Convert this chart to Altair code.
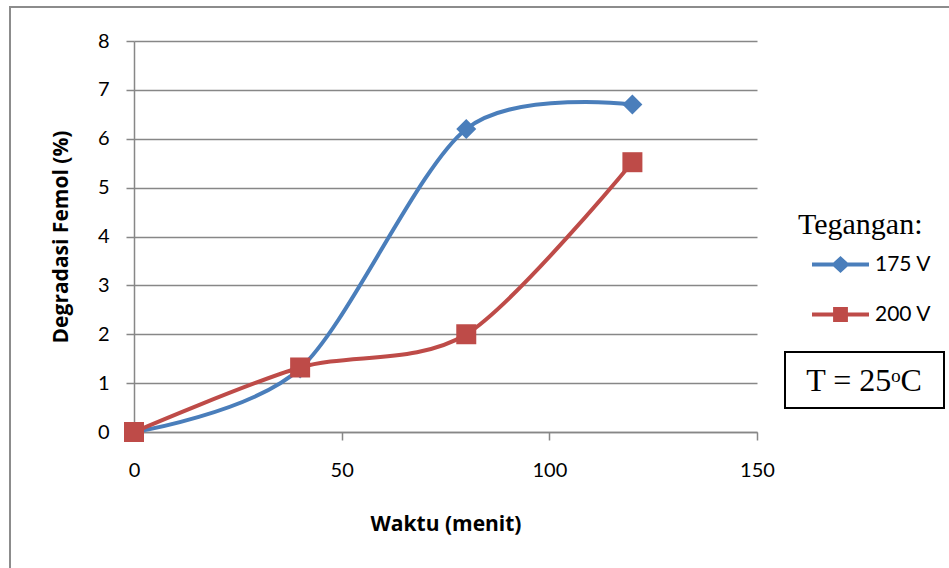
import altair as alt
import pandas as pd

# ---- data ----
times = [0, 40, 80, 120]
v175 = [0.0, 1.3, 6.2, 6.7]
v200 = [0.0, 1.32, 2.0, 5.52]
series = ["175 V", "200 V"]
x_ticks = [0, 50, 100, 150]
y_ticks = [0, 1, 2, 3, 4, 5, 6, 7, 8]
note_text = ["T = 25ᵒC"]

colors = ["#4A7EBB", "#BE4B48"]
LBL = "Lato"
TTL = "Open Sans"
SERIF = "Liberation Serif"
GRID = "#878787"

df = pd.DataFrame({
    "Waktu": times + times,
    "Degradasi": v175 + v200,
    "Tegangan": [series[0]] * len(times) + [series[1]] * len(times),
})

x = alt.X("Waktu:Q",
          scale=alt.Scale(domain=[0, 150], nice=False),
          axis=alt.Axis(values=x_ticks, title="Waktu (menit)", grid=False, labelFlush=False,
                        labelPadding=20, titlePadding=33))
y = alt.Y("Degradasi:Q",
          scale=alt.Scale(domain=[0, 8], nice=False),
          axis=alt.Axis(values=y_ticks, title="Degradasi Femol (%)", grid=True, labelFlush=False,
                        labelPadding=17, titlePadding=26))
color_nolegend = alt.Color("Tegangan:N", scale=alt.Scale(domain=series, range=colors), legend=None)

path_diamond = "M-1,0L1,0M0,-0.2L0.22,0L0,0.2L-0.22,0Z"
path_square = "M-1,0L1,0M-0.19,-0.19L0.19,-0.19L0.19,0.19L-0.19,0.19Z"

common_leg = dict(
    orient="none", legendX=664,
    labelFont=LBL, labelFontSize=21, labelColor="black",
    labelOffset=4, symbolSize=3249, symbolStrokeWidth=4, symbolOpacity=1,
    symbolOffset=12, clipHeight=45,
)
leg1 = alt.Legend(
    title="Tegangan:", legendY=169,
    titleFont=SERIF, titleFontSize=30, titleFontWeight="normal", titleColor="black",
    titlePadding=2, symbolType=path_diamond, symbolStrokeColor=colors[0],
    **common_leg,
)
leg2 = alt.Legend(
    title=None, legendY=251, symbolType=path_square, symbolFillColor=colors[1],
    **common_leg,
)

base = alt.Chart(df)

lines = base.mark_line(interpolate="cardinal", tension=0.12, strokeWidth=4).encode(
    x=x, y=y, color=color_nolegend)

points = base.mark_point(filled=True, opacity=1, size=400).encode(
    x=x, y=y, color=color_nolegend,
    shape=alt.Shape("Tegangan:N", scale=alt.Scale(domain=series, range=["diamond", "square"]), legend=None))

legend_a = base.mark_point(filled=True, opacity=0).encode(
    x=x, y=y,
    fill=alt.Fill("Tegangan:N", scale=alt.Scale(domain=[series[0]], range=[colors[0]]), legend=leg1),
)
legend_b = base.mark_point(filled=True, color=colors[1], opacity=0).encode(
    x=x, y=y,
    stroke=alt.Stroke("Tegangan:N", scale=alt.Scale(domain=[series[1]], range=[colors[1]]), legend=leg2),
)

note_df = pd.DataFrame({"label": note_text})
note_box = alt.Chart(note_df).mark_rect(fill="white", stroke="black", strokeWidth=2).encode(
    x=alt.value(651), x2=alt.value(810), y=alt.value(311), y2=alt.value(367))
note_txt = alt.Chart(note_df).mark_text(font=SERIF, fontSize=32, color="black",
                                        align="center", baseline="middle").encode(
    x=alt.value(730), y=alt.value(340), text="label:N")

frame = alt.Chart(note_df).mark_rect(fill=None, stroke="#8c8c8c", strokeWidth=2).encode(
    x=alt.value(-124), x2=alt.value(900), y=alt.value(-34), y2=alt.value(700))

chart = alt.layer(frame, lines, points, legend_a, legend_b, note_box, note_txt).properties(
    width=623, height=391,
    autosize=alt.AutoSizeParams(type="none"),
    padding={"left": 134, "top": 41, "right": 192, "bottom": 136},
    background="white",
).configure_view(stroke=None).configure_axis(
    domainColor=GRID, gridColor=GRID, tickColor=GRID,
    domainWidth=1.5, gridWidth=1.3, tickWidth=1.5, tickSize=8,
    labelFont=LBL, labelFontSize=20, labelColor="black",
    titleFont=TTL, titleFontSize=21, titleFontWeight="bold", titleColor="black",
)

chart.save("out.html", embed_options={"renderer": "svg", "actions": False})
